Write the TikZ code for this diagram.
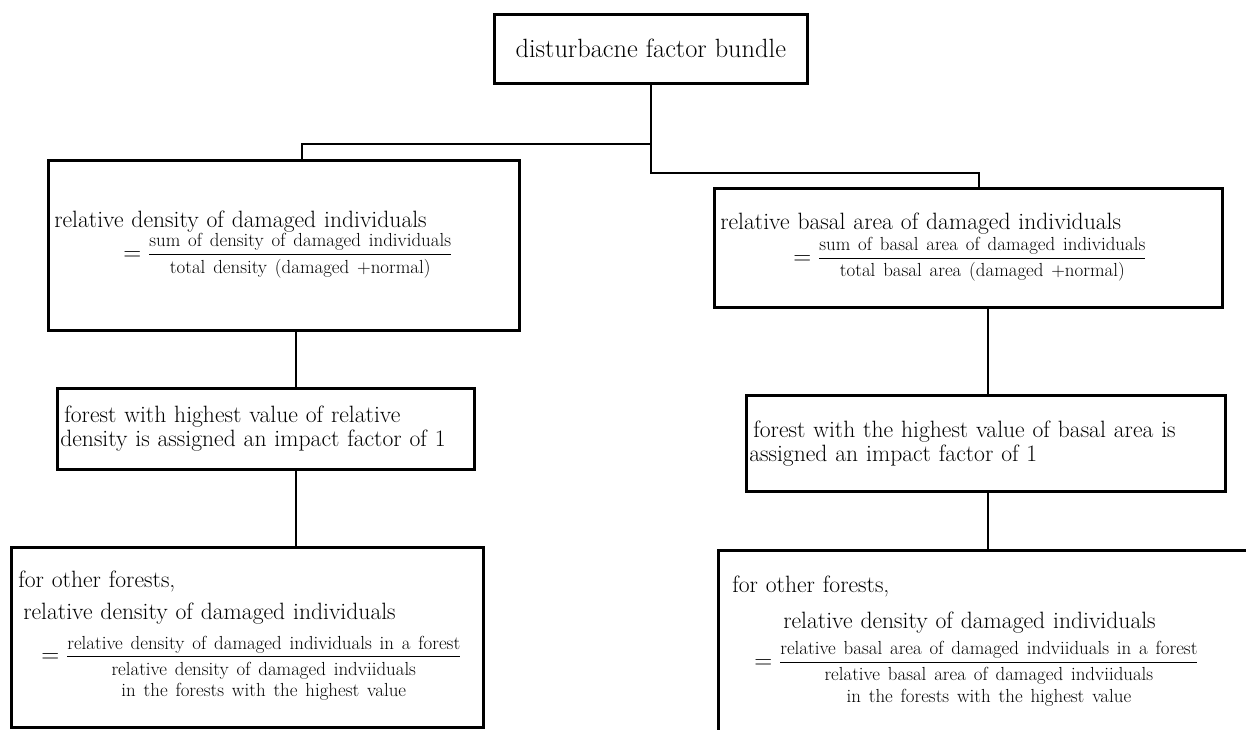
\documentclass[tikz,border=0pt]{standalone}
\newcommand\topsize{\fontsize{26.4}{30}\selectfont}
\newcommand\mainsize{\fontsize{23.6}{24}\selectfont}
\newcommand\fracsize{\fontsize{18.9}{21.5}\selectfont}
\newcommand\fnum[1]{\mbox{\fracsize\rule[-7pt]{0pt}{7pt}#1}}
\newcommand\fden[1]{\mbox{\fracsize\begin{tabular}[t]{@{}c@{}}\rule{0pt}{18pt}#1\end{tabular}}}
\tikzset{
  box/.style={draw,line width=2.6pt,anchor=north west,inner xsep=6pt,inner ysep=0pt,align=left,font=\mainsize},
  link/.style={line width=2.6pt},
}
\begin{document}
\begin{tikzpicture}[x=1pt,y=-1pt]
\useasboundingbox (0,0) rectangle (1246,729);
\clip (0,0) rectangle (1246,729);
\node[box,minimum width=313pt,minimum height=69pt,align=center,font=\topsize] (bundle) at (493,13) {disturbacne factor bundle};
\node[box,minimum width=471pt,minimum height=170pt,text width=459pt] (dens) at (47,159) {relative density of damaged individuals\\
\hspace*{69pt}$=\frac{\fnum{sum of density of damaged individuals}}{\fden{total density (damaged +normal)}}$};
\node[box,minimum width=508pt,minimum height=119pt,text width=496pt] (basal) at (713,187) {relative basal area of damaged individuals\\[2pt]
\hspace*{73pt}$=\frac{\fnum{sum of basal area of damaged individuals}}{\fden{total basal area (damaged +normal)}}$};
\node[box,inner xsep=3pt,minimum width=417pt,minimum height=81pt,text width=411pt] (densmax) at (56,387) {\hspace*{4pt}forest with highest value of relative\\density is assigned an impact factor of 1};
\node[box,inner xsep=3pt,minimum width=479pt,minimum height=96pt,text width=473pt] (basalmax) at (745,394) {\hspace*{4pt}forest with the highest value of basal area is\\assigned an impact factor of 1};
\node[box,minimum width=472pt,minimum height=180pt,text width=460pt] (densrest) at (10,546) {\hspace*{1pt}for other forests,\\[8pt]
\hspace*{6pt}relative density of damaged individuals\\[10pt]
\hspace*{24pt}$=\frac{\fnum{relative density of damaged individuals in a forest}}{\fden{relative density of damaged indviiduals\\in the forests with the highest value}}$};
\node[box,minimum width=600pt,minimum height=184pt,text width=588pt] (basalrest) at (717,549) {\hspace*{8pt}for other forests,\\[12pt]
\hspace*{59pt}relative density of damaged individuals\\[7pt]
\hspace*{30pt}$=\frac{\fnum{relative basal area of damaged indviiduals in a forest}}{\fden{relative basal area of damaged indviiduals\\in the forests with the highest value}}$};
\coordinate (lknee) at (302,144);
\coordinate (rknee) at (979,173);
\coordinate (lcol) at (296,0);
\coordinate (rcol) at (988,0);
\draw[link] (bundle.south) |- (lknee) -- (lknee |- dens.north);
\draw[link] (bundle.south) |- (rknee) -- (rknee |- basal.north);
\draw[link] (dens.south -| lcol) -- (densmax.north -| lcol);
\draw[link] (densmax.south -| lcol) -- (densrest.north -| lcol);
\draw[link] (basal.south -| rcol) -- (basalmax.north -| rcol);
\draw[link] (basalmax.south -| rcol) -- (basalrest.north -| rcol);
\end{tikzpicture}
\end{document}
